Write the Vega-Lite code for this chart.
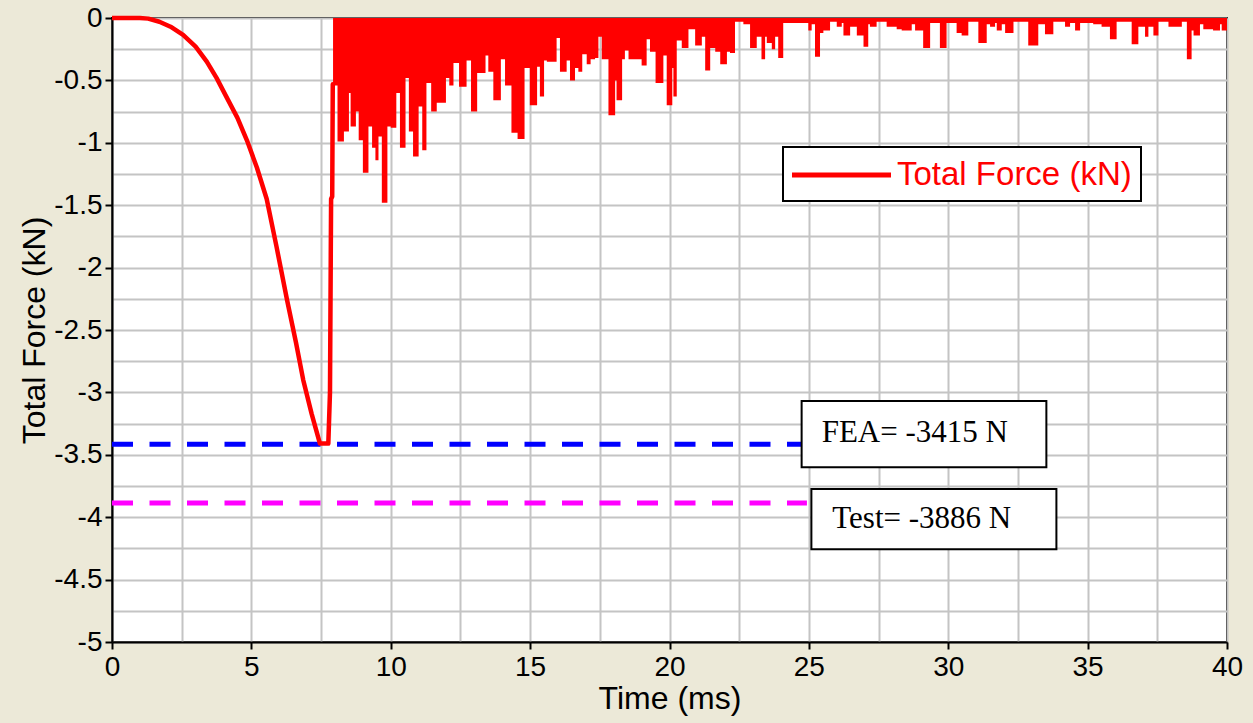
{
  "$schema": "https://vega.github.io/schema/vega-lite/v6.json",
  "width": 1115,
  "height": 624,
  "autosize": "none",
  "padding": {"left": 112, "top": 18, "right": 26, "bottom": 81},
  "background": "#ECE9D8",
  "config": {
    "view": {"fill": "white", "stroke": "black", "strokeWidth": 2},
    "axis": {
      "gridColor": "#C4C4C4", "gridWidth": 2, "gridOpacity": 1,
      "domainColor": "black", "domainWidth": 2,
      "tickColor": "black", "tickWidth": 2, "tickSize": 7,
      "labelFont": "Liberation Sans", "labelFontSize": 28, "labelColor": "black",
      "titleFont": "Liberation Sans", "titleFontSize": 32, "titleFontWeight": "normal", "titleColor": "black",
      "labelOverlap": false, "labelFlush": false
    }
  },
  "datasets": {
    "curve": [
      {"t": 0, "f": 0}, {"t": 1.0, "f": 0}, {"t": 1.3, "f": -0.005}, {"t": 1.7, "f": -0.03},
      {"t": 2.1, "f": -0.07}, {"t": 2.55, "f": -0.136}, {"t": 3.0, "f": -0.23}, {"t": 3.4, "f": -0.35},
      {"t": 3.75, "f": -0.48}, {"t": 4.1, "f": -0.63}, {"t": 4.5, "f": -0.8}, {"t": 4.84, "f": -0.98},
      {"t": 5.2, "f": -1.2}, {"t": 5.55, "f": -1.45}, {"t": 5.9, "f": -1.83}, {"t": 6.28, "f": -2.26},
      {"t": 6.6, "f": -2.6}, {"t": 6.86, "f": -2.9}, {"t": 7.16, "f": -3.17}, {"t": 7.46, "f": -3.41},
      {"t": 7.76, "f": -3.41}, {"t": 7.82, "f": -3.0}, {"t": 7.86, "f": -1.45}, {"t": 7.9, "f": -1.43},
      {"t": 7.92, "f": -0.53}, {"t": 7.95, "f": -0.53}
    ],
    "osc": [
      {"t": 7.93, "f": -0.54}, {"t": 8.09, "f": -0.99}, {"t": 8.32, "f": -0.91}, {"t": 8.5, "f": -0.6},
      {"t": 8.56, "f": -0.87}, {"t": 8.75, "f": -0.75}, {"t": 8.85, "f": -0.98}, {"t": 9.0, "f": -1.24},
      {"t": 9.2, "f": -0.87}, {"t": 9.33, "f": -1.04}, {"t": 9.45, "f": -1.14}, {"t": 9.56, "f": -0.95},
      {"t": 9.68, "f": -1.48}, {"t": 9.88, "f": -0.87}, {"t": 10.0, "f": -0.88}, {"t": 10.2, "f": -0.6},
      {"t": 10.33, "f": -1.04}, {"t": 10.53, "f": -0.48}, {"t": 10.65, "f": -0.91}, {"t": 10.8, "f": -1.11},
      {"t": 11.0, "f": -0.71}, {"t": 11.13, "f": -1.06}, {"t": 11.28, "f": -0.52}, {"t": 11.45, "f": -0.75},
      {"t": 11.65, "f": -0.68}, {"t": 11.98, "f": -0.48}, {"t": 12.1, "f": -0.54}, {"t": 12.25, "f": -0.36},
      {"t": 12.45, "f": -0.55}, {"t": 12.72, "f": -0.34}, {"t": 12.88, "f": -0.75}, {"t": 13.1, "f": -0.44},
      {"t": 13.4, "f": -0.3}, {"t": 13.5, "f": -0.43}, {"t": 13.68, "f": -0.66}, {"t": 13.95, "f": -0.33},
      {"t": 14.1, "f": -0.54}, {"t": 14.33, "f": -0.92}, {"t": 14.55, "f": -0.97}, {"t": 14.8, "f": -0.4},
      {"t": 14.99, "f": -0.7}, {"t": 15.25, "f": -0.39}, {"t": 15.35, "f": -0.63}, {"t": 15.5, "f": -0.34},
      {"t": 15.6, "f": -0.35}, {"t": 15.95, "f": -0.16}, {"t": 16.07, "f": -0.43}, {"t": 16.31, "f": -0.34},
      {"t": 16.43, "f": -0.5}, {"t": 16.61, "f": -0.4}, {"t": 16.73, "f": -0.43}, {"t": 16.87, "f": -0.29},
      {"t": 17.03, "f": -0.37}, {"t": 17.17, "f": -0.33}, {"t": 17.33, "f": -0.32}, {"t": 17.45, "f": -0.15},
      {"t": 17.57, "f": -0.33}, {"t": 17.81, "f": -0.78}, {"t": 18.05, "f": -0.5}, {"t": 18.1, "f": -0.66},
      {"t": 18.3, "f": -0.33}, {"t": 18.4, "f": -0.26}, {"t": 18.53, "f": -0.33}, {"t": 19.0, "f": -0.38},
      {"t": 19.18, "f": -0.17}, {"t": 19.3, "f": -0.27}, {"t": 19.5, "f": -0.52}, {"t": 19.78, "f": -0.3},
      {"t": 19.9, "f": -0.7}, {"t": 20.1, "f": -0.4}, {"t": 20.14, "f": -0.63}, {"t": 20.26, "f": -0.18},
      {"t": 20.44, "f": -0.24}, {"t": 20.68, "f": -0.09}, {"t": 20.92, "f": -0.22}, {"t": 21.16, "f": -0.15},
      {"t": 21.28, "f": -0.42}, {"t": 21.46, "f": -0.24}, {"t": 21.64, "f": -0.27}, {"t": 21.82, "f": -0.37},
      {"t": 22.06, "f": -0.27}, {"t": 22.17, "f": -0.28}, {"t": 22.35, "f": -0.03}, {"t": 22.65, "f": -0.05},
      {"t": 22.89, "f": -0.24}, {"t": 23.13, "f": -0.15}, {"t": 23.3, "f": -0.33}, {"t": 23.43, "f": -0.15},
      {"t": 23.49, "f": -0.2}, {"t": 23.67, "f": -0.25}, {"t": 23.79, "f": -0.15}, {"t": 23.9, "f": -0.32},
      {"t": 24.08, "f": -0.04}, {"t": 24.98, "f": -0.1}, {"t": 25.1, "f": -0.05}, {"t": 25.22, "f": -0.31},
      {"t": 25.4, "f": -0.12}, {"t": 25.52, "f": -0.1}, {"t": 25.76, "f": -0.03}, {"t": 26.0, "f": -0.07},
      {"t": 26.18, "f": -0.04}, {"t": 26.24, "f": -0.14}, {"t": 26.48, "f": -0.07}, {"t": 26.72, "f": -0.14},
      {"t": 26.96, "f": -0.23}, {"t": 27.13, "f": -0.05}, {"t": 27.19, "f": -0.07}, {"t": 27.43, "f": -0.03},
      {"t": 27.79, "f": -0.07}, {"t": 28.15, "f": -0.09}, {"t": 28.33, "f": -0.1}, {"t": 28.69, "f": -0.05},
      {"t": 28.81, "f": -0.1}, {"t": 29.1, "f": -0.24}, {"t": 29.35, "f": -0.04}, {"t": 29.7, "f": -0.24},
      {"t": 29.94, "f": -0.04}, {"t": 30.3, "f": -0.12}, {"t": 30.48, "f": -0.14}, {"t": 30.72, "f": -0.03},
      {"t": 31.08, "f": -0.2}, {"t": 31.38, "f": -0.05}, {"t": 31.5, "f": -0.07}, {"t": 31.68, "f": -0.04},
      {"t": 31.74, "f": -0.1}, {"t": 31.92, "f": -0.05}, {"t": 32.04, "f": -0.12}, {"t": 32.34, "f": -0.03},
      {"t": 32.87, "f": -0.22}, {"t": 33.23, "f": -0.05}, {"t": 33.47, "f": -0.13}, {"t": 33.77, "f": -0.03},
      {"t": 34.19, "f": -0.07}, {"t": 34.37, "f": -0.04}, {"t": 34.55, "f": -0.1}, {"t": 34.73, "f": -0.04},
      {"t": 35.2, "f": -0.05}, {"t": 35.5, "f": -0.07}, {"t": 35.8, "f": -0.17}, {"t": 36.04, "f": -0.03},
      {"t": 36.58, "f": -0.21}, {"t": 36.82, "f": -0.07}, {"t": 37.06, "f": -0.15}, {"t": 37.18, "f": -0.07},
      {"t": 37.36, "f": -0.14}, {"t": 37.54, "f": -0.03}, {"t": 37.9, "f": -0.07}, {"t": 38.38, "f": -0.03},
      {"t": 38.56, "f": -0.33}, {"t": 38.73, "f": -0.1}, {"t": 38.8, "f": -0.14}, {"t": 39.03, "f": -0.05},
      {"t": 39.15, "f": -0.09}, {"t": 39.5, "f": -0.1}, {"t": 39.75, "f": -0.05}, {"t": 39.81, "f": -0.1},
      {"t": 40.0, "f": -0.1}
    ],
    "fea": [{"t0": 0, "t1": 24.74, "f": -3.415}],
    "test": [{"t0": 0, "t1": 24.93, "f": -3.886}],
    "boxes": [
      {"t0": 24.74, "t1": 33.52, "f0": -3.069, "f1": -3.6, "tx": 25.46, "ty": -3.395, "label": "FEA= -3415 N"},
      {"t0": 25.09, "t1": 33.88, "f0": -3.774, "f1": -4.257, "tx": 25.84, "ty": -4.089, "label": "Test= -3886 N"}
    ]
  },
  "encoding": {
    "x": {
      "type": "quantitative",
      "scale": {"domain": [0, 40], "nice": false, "zero": false},
      "axis": {
        "title": "Time (ms)",
        "values": [0, 2.5, 5, 7.5, 10, 12.5, 15, 17.5, 20, 22.5, 25, 27.5, 30, 32.5, 35, 37.5, 40],
        "labelExpr": "datum.value % 5 === 0 ? datum.label : ''",
        "tickOpacity": {"condition": {"test": "datum.value % 5 === 0", "value": 1}, "value": 0},
        "labelPadding": 4, "titlePadding": 2
      }
    },
    "y": {
      "type": "quantitative",
      "scale": {"domain": [-5, 0], "nice": false, "zero": false},
      "axis": {
        "title": "Total Force (kN)",
        "values": [0, -0.25, -0.5, -0.75, -1, -1.25, -1.5, -1.75, -2, -2.25, -2.5, -2.75, -3, -3.25, -3.5, -3.75, -4, -4.25, -4.5, -4.75, -5],
        "labelExpr": "abs(datum.value*2 - round(datum.value*2)) < 0.001 ? toString(datum.value) : ''",
        "tickOpacity": {"condition": {"test": "abs(datum.value*2 - round(datum.value*2)) < 0.001", "value": 1}, "value": 0},
        "labelPadding": 3, "titlePadding": 2
      }
    }
  },
  "layer": [
    {
      "data": {"name": "fea"},
      "mark": {"type": "rule", "color": "#0000FF", "strokeWidth": 5, "strokeDash": [21, 16.5]},
      "encoding": {"x": {"field": "t0"}, "x2": {"field": "t1"}, "y": {"field": "f"}}
    },
    {
      "data": {"name": "test"},
      "mark": {"type": "rule", "color": "#FF00FF", "strokeWidth": 5, "strokeDash": [21, 16.5]},
      "encoding": {"x": {"field": "t0"}, "x2": {"field": "t1"}, "y": {"field": "f"}}
    },
    {
      "data": {"name": "osc"},
      "mark": {"type": "area", "color": "#FF0000", "interpolate": "step-after", "opacity": 1},
      "encoding": {"x": {"field": "t"}, "y": {"field": "f"}}
    },
    {
      "data": {"name": "curve"},
      "mark": {"type": "line", "strokeWidth": 4.5, "strokeJoin": "round"},
      "encoding": {
        "x": {"field": "t"}, "y": {"field": "f"},
        "color": {
          "datum": "Total Force (kN)", "type": "nominal",
          "scale": {"range": ["#FF0000"]},
          "legend": {
            "title": null, "orient": "none", "legendX": 671, "legendY": 129,
            "fillColor": "white", "strokeColor": "black", "padding": 9,
            "symbolType": "M -3 0 L 3 0", "symbolSize": 1089, "symbolStrokeWidth": 5,
            "symbolOffset": 30.5,
            "labelFont": "Liberation Sans", "labelFontSize": 33, "labelColor": "#FF0000", "labelOffset": 36.5,
            "labelLimit": 400,
            "encode": {"legend": {"update": {"strokeWidth": {"value": 2}}}}
          }
        }
      }
    },
    {
      "data": {"name": "boxes"},
      "mark": {"type": "rect", "fill": "white", "stroke": "black", "strokeWidth": 2},
      "encoding": {"x": {"field": "t0"}, "x2": {"field": "t1"}, "y": {"field": "f0"}, "y2": {"field": "f1"}}
    },
    {
      "data": {"name": "boxes"},
      "mark": {"type": "text", "align": "left", "baseline": "alphabetic", "font": "Liberation Serif", "fontSize": 31, "color": "black"},
      "encoding": {"x": {"field": "tx"}, "y": {"field": "ty"}, "text": {"field": "label"}}
    }
  ]
}
